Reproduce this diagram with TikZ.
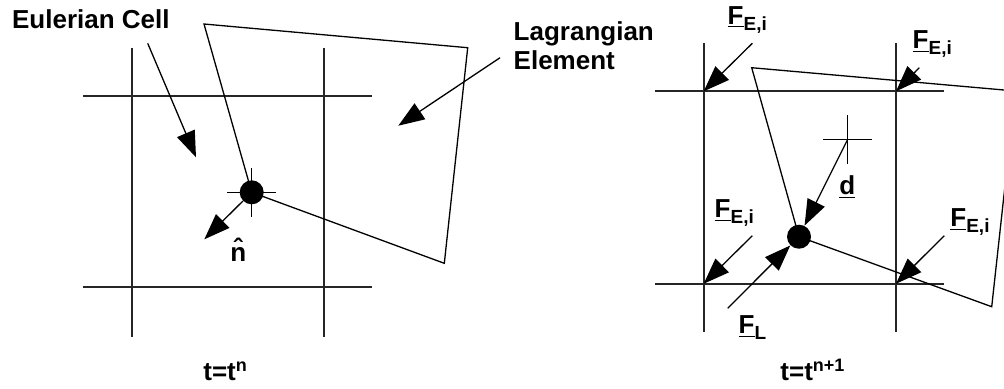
\documentclass[tikz,border=0pt]{standalone}
\usepackage{fontspec}
\setmainfont{Liberation Sans}
\usetikzlibrary{arrows.meta,positioning}
\newcommand{\lowsub}[1]{\raisebox{-3pt}{\fontsize{9.5}{10}\selectfont #1}}
\newcommand{\highsup}[1]{\raisebox{4.5pt}{\fontsize{9}{10}\selectfont #1}}

\begin{document}
\begin{tikzpicture}[
    x=0.5pt, y=-0.5pt, >={Triangle[length=13pt,width=9.5pt]},
    grid/.style  ={line width=1pt, black!85},
    elem/.style  ={line width=0.65pt},
    ptr/.style   ={line width=0.65pt, ->},
    crossmk/.style={line width=0.7pt},
    lbl/.style   ={font=\bfseries\fontsize{13}{14.5}\selectfont, inner sep=0pt, anchor=base west},
    tlbl/.style  ={font=\bfseries\fontsize{13}{14}\selectfont, inner sep=0pt, anchor=base west},
    flbl/.style  ={font=\bfseries\fontsize{13}{14}\selectfont, inner sep=0pt, anchor=base west},
    dot/.style   ={circle, fill, inner sep=0pt, minimum size=12pt}
]
\useasboundingbox (0,0) rectangle (1004,388);

% ---------- left: t = t^n ----------
\foreach \x in {132,323.7} \draw[grid] (\x,47.7) -- (\x,336.7);
\foreach \y in {96,287.3} \draw[grid] (83.3,\y) -- (372.3,\y);

\node[dot] (p0) at (251.7,192.3) {};
\draw[crossmk] (p0.center) ++(-24.5,0) -- ++(49,0);
\draw[crossmk] (p0.center) ++(0,-24.5) -- ++(0,49);

% Lagrangian element
\coordinate (a0) at (204,24);
\coordinate (b0) at (467.7,47.7);
\coordinate (c0) at (444.3,263.3);
\draw[elem] (p0.center) -- (a0) -- (b0) -- (c0) -- cycle;

% normal
\coordinate (n0) at (204.3,239.3);
\draw[ptr] (p0) -- (n0);
\node[flbl] (nhat) at (230,261.7) {\^{n}};

% labels
\node[lbl] (euler) at (11.7,28.3) {Eulerian Cell};
\coordinate (e0) at (147.7,43.3);
\coordinate (e1) at (196,157.3);
\draw[ptr] (e0) -- (e1);

\node[lbl, align=left] (lagr) at (513.3,69) {Lagrangian\\Element};
\coordinate (l0) at (500,57.7);
\coordinate (l1) at (398.3,125.7);
\draw[ptr] (l0) -- (l1);

\node[tlbl] (tn) at (203,380) {t=t\highsup{n}};

% ---------- right: t = t^{n+1} ----------
\coordinate (g11) at (703.7,91.3);
\coordinate (g21) at (896,91.3);
\coordinate (g12) at (703.7,283.7);
\coordinate (g22) at (896,283.7);
\foreach \x in {703.7,896} \draw[grid] (\x,43.3) -- (\x,332.3);
\foreach \y in {91.3,283.7} \draw[grid] (655.3,\y) -- (944.3,\y);

\node[dot] (p1) at (799,236.7) {};
\coordinate (x1) at (847.7,139.3);
\draw[crossmk] (x1) ++(-24.5,0) -- ++(49,0);
\draw[crossmk] (x1) ++(0,-24.5) -- ++(0,49);

% moved element (runs off the page)
\begin{scope}
\clip (0,0) rectangle (1004,388);
\coordinate (a1) at (751.7,67.7);
\coordinate (b1) at (1015.4,91);
\coordinate (c1) at (991.7,306.7);
\draw[elem] (p1.center) -- (a1) -- (b1) -- (c1) -- cycle;
\end{scope}

% displacement and Lagrangian force
\draw[ptr] (x1) -- (p1);
\node[flbl] (dlab) at (839,194) {\underline{d}};
\coordinate (f0) at (727.7,308.3);
\draw[ptr] (f0) -- (p1);
\node[flbl] (fl) at (738.3,333.3) {\underline{F}\lowsub{L}};

% Eulerian nodal forces
\coordinate (s11) at (752.3,43.3);
\coordinate (s21) at (919.3,67.7);
\coordinate (s12) at (752.3,235.7);
\coordinate (s22) at (944.3,235.7);
\foreach \c in {11,21,12,22} \draw[ptr] (s\c) -- (g\c);
\node[flbl] (fe11) at (727.3,24) {\underline{F}\lowsub{E,i}};
\node[flbl] (fe21) at (912.3,48.3) {\underline{F}\lowsub{E,i}};
\node[flbl] (fe12) at (714.3,217.3) {\underline{F}\lowsub{E,i}};
\node[flbl] (fe22) at (950,226.7) {\underline{F}\lowsub{E,i}};

\node[tlbl] (tn1) at (780,380) {t=t\highsup{n+1}};
\end{tikzpicture}
\end{document}
